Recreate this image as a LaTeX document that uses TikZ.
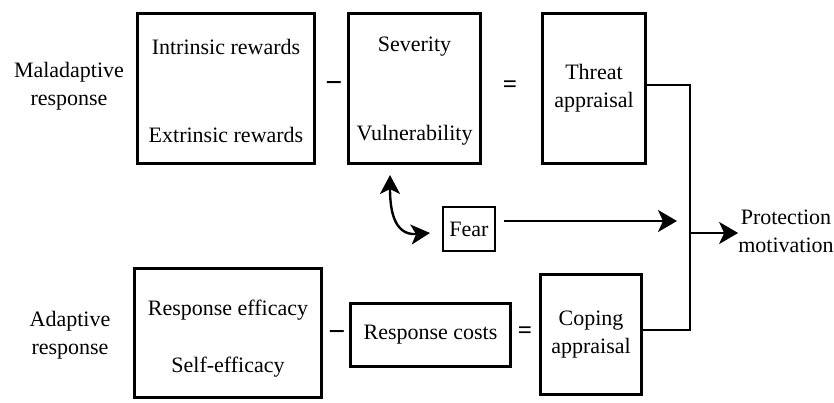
\documentclass[tikz,border=0pt]{standalone}
\usepackage{fontspec}
\setmainfont{Liberation Serif}
\usetikzlibrary{arrows.meta}
\begin{document}
\begin{tikzpicture}[x=1pt,y=-1pt,
  every node/.style={font=\fontsize{22}{28}\selectfont, inner sep=0pt},
  box/.style={draw, line width=2.6pt, rectangle, minimum width=#1},
  minusop/.style={font=\fontsize{30}{30}\selectfont\bfseries},
  eqop/.style={font=\fontsize{25}{25}\selectfont\bfseries},
  conn/.style={line width=2.4pt},
  tip/.style={-{Stealth[length=19pt,width=22pt,inset=5pt]}},
  brk/.style={line width=1.8pt}
]
\useasboundingbox (0,0) rectangle (834,403);

% left labels
\node[align=center] (mal) at (69,86) {Maladaptive\\response};
\node[align=center] (ada) at (70,335) {Adaptive\\response};

% top row
\node[box=177pt, minimum height=150pt] (rew) at (226,88.5) {};
\node (intr) at (226,47) {Intrinsic rewards};
\node (extr) at (226,135) {Extrinsic rewards};
\node[minusop] (minus1) at (334,87) {−};
\node[box=132pt, minimum height=150pt] (sv) at (414.5,88.5) {};
\node (sev) at (414.5,47) {Severity};
\node (vul) at (414.5,135) {Vulnerability};
\node[eqop] (eq1) at (510,87) {=};
\node[box=103pt, minimum height=150pt, align=center] (threat) at (594,88.5) {Threat\\appraisal};

% fear
\node[draw, line width=2.4pt, minimum width=52pt, minimum height=44pt] (fear) at (469,229) {Fear};

% bottom row
\node[box=187pt, minimum height=129pt] (eff) at (228,333) {};
\node (reff) at (228,310) {Response efficacy};
\node (seff) at (228,367) {Self-efficacy};
\node[minusop] (minus2) at (337,336) {−};
\node[box=160pt, minimum height=63pt] (costs) at (430.5,335) {Response costs};
\node[eqop] (eq2) at (525,333) {=};
\node[box=101pt, minimum height=120pt, align=center] (coping) at (591,334.5) {Coping\\appraisal};

% outcome
\node[align=center] (pm) at (786,231) {Protection\\motivation};

% connectors
\coordinate (fa) at (390,175);
\coordinate (fb) at (430,233);
\draw[conn, {Stealth[length=19pt,width=20pt,inset=5pt]}-{Stealth[length=19pt,width=20pt,inset=5pt]}]
  (fa) .. controls (390,205) and (392,236) .. (fb);

\coordinate (fs) at (504,221);
\coordinate (fe) at (677,221);
\draw[conn, tip] (fs) -- (fe);

\coordinate (bt) at (690,85);
\coordinate (bb) at (690,330);
\coordinate (bm) at (690,233);
\draw[brk] (threat.east |- bt) -- (bt) -- (bb) -- (coping.east |- bb);
\draw[conn, tip] (bm) -- (pm.west |- bm);
\end{tikzpicture}
\end{document}
